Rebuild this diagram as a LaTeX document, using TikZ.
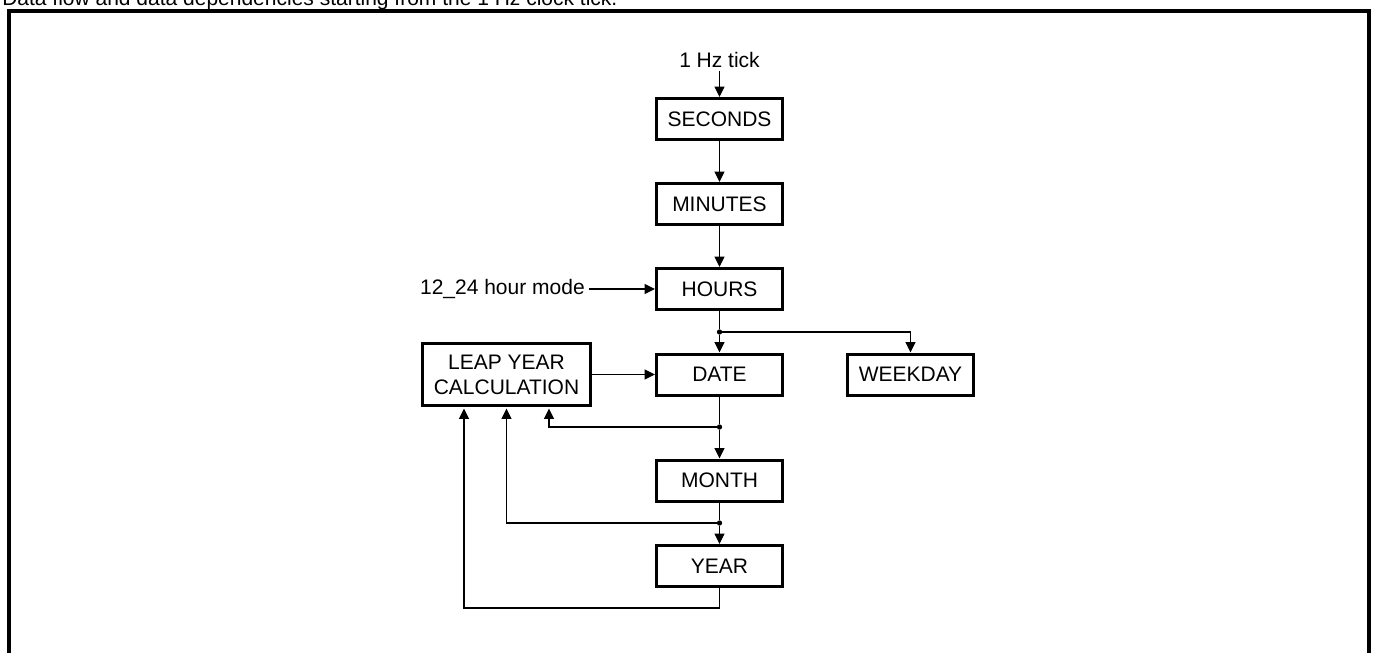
\documentclass[tikz,border=0pt]{standalone}
\usepackage{fontspec}
\setmainfont{Liberation Sans}
\usetikzlibrary{arrows.meta,calc}
\begin{document}
\begin{tikzpicture}[x=0.75pt,y=-0.75pt,
  font=\fontsize{15.75pt}{18.75pt}\selectfont,
  box/.style={draw, line width=2.25pt, minimum width=94.5pt, minimum height=30.75pt, inner sep=0pt, align=center},
  conn/.style={line width=0.9pt, -{Triangle[length=7.8pt,width=7.5pt]}},
  wire/.style={line width=0.9pt},
  dot/.style={circle, fill, inner sep=0pt, minimum size=4pt},
  lbl/.style={inner sep=3pt}]
\useasboundingbox (0,0) rectangle (1375,653);
% caption and frame
\node[anchor=base west, inner sep=0pt] (cap) at (2,5.5) {Data flow and data dependencies starting from the 1 Hz clock tick.};
\draw[line width=3pt] (9,670) -- (9,10.5) -- (1369,10.5) -- (1369,670);
% nodes
\node[lbl, anchor=base] (tick) at (719.5,67) {1 Hz tick};
\node[box] (sec) at (719.5,119) {SECONDS};
\node[box] (min) at (719.5,204) {MINUTES};
\node[box] (hrs) at (719.5,289) {HOURS};
\node[box] (date) at (719.5,374.5) {DATE};
\node[box] (wkd) at (910.5,374.5) {WEEKDAY};
\node[box] (mon) at (719.5,480.5) {MONTH};
\node[box] (yr) at (719.5,566) {YEAR};
\node[box, minimum width=126pt, minimum height=46.5pt] (leap) at (506.5,374.5) {LEAP YEAR\\CALCULATION};
\node[lbl, anchor=east] (mode) at (589,289) {12\_24 hour mode};
% junctions
\node[dot] (d1) at (719.5,332) {};
\node[dot] (d2) at (719.5,427) {};
\node[dot] (d3) at (719.5,523) {};
\coordinate (yc) at (719.5,608);
\coordinate (la) at ($(leap.south)+(-42.5,1.5)$);
\coordinate (lb) at ($(leap.south)+(0,1.5)$);
\coordinate (lc) at ($(leap.south)+(42.5,1.5)$);
% connectors
\draw[conn] (tick) -- (sec);
\draw[conn] (sec) -- (min);
\draw[conn] (min) -- (hrs);
\draw[conn] (mode) -- (hrs);
\draw[wire] (hrs) -- (d1);
\draw[conn] (d1) -- (date);
\draw[conn] (d1) -| (wkd);
\draw[conn] (leap) -- (date);
\draw[wire] (date) -- (d2);
\draw[conn] (d2) -- (mon);
\draw[conn] (d2) -| (lc);
\draw[wire] (mon) -- (d3);
\draw[conn] (d3) -- (yr);
\draw[conn] (d3) -| (lb);
\draw[conn] (yr) -- (yc) -| (la);
\end{tikzpicture}
\end{document}
